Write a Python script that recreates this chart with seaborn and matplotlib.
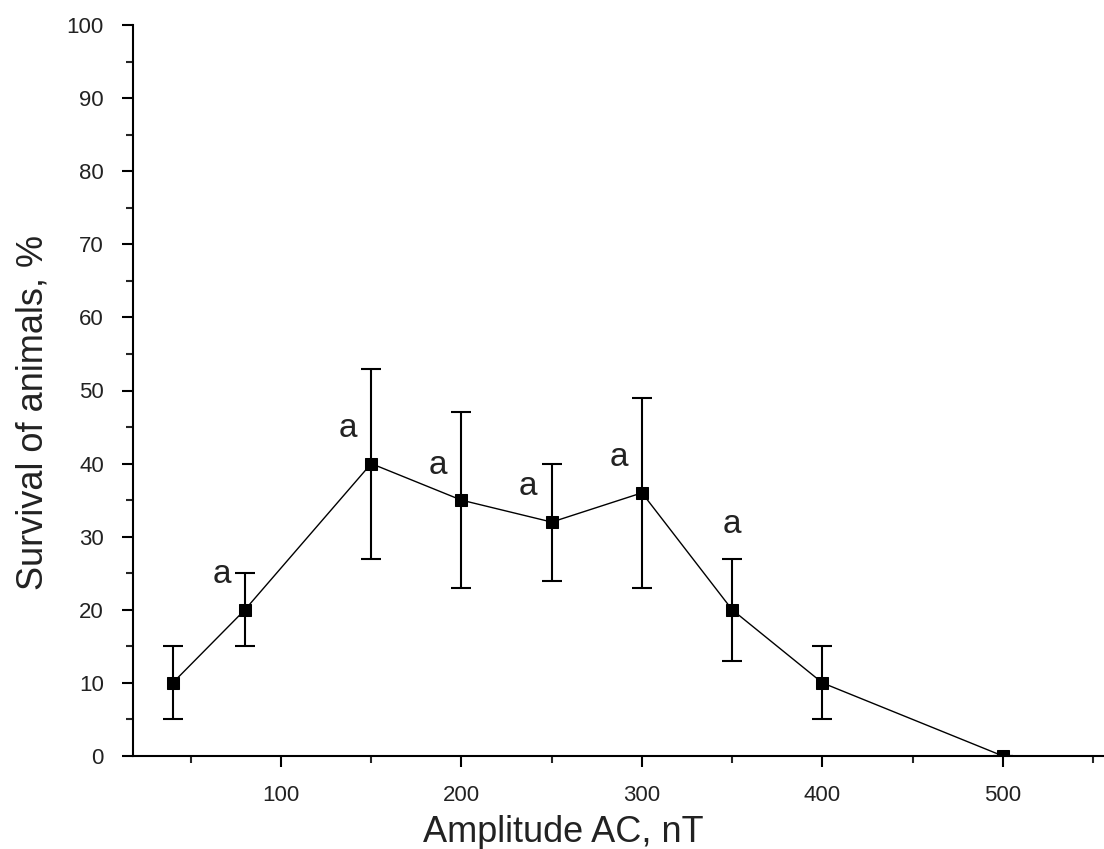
import numpy as np
import pandas as pd
import matplotlib
matplotlib.use("Agg")
import matplotlib.pyplot as plt
from matplotlib.ticker import MultipleLocator
import seaborn as sns

# 数据
amplitude = [40, 80, 150, 200, 250, 300, 350, 400, 500]
survival = [10, 20, 40, 35, 32, 36, 20, 10, 0]
err = [5, 5, 13, 12, 8, 13, 7, 5, 0]
sig_label = ["", "a", "a", "a", "a", "a", "a", "", ""]

df = pd.DataFrame({"amplitude": amplitude, "survival": survival, "err": err, "sig": sig_label})

sns.set_style("ticks")
plt.rcParams['font.family'] = ['Liberation Sans', 'DejaVu Sans']

fig = plt.figure(figsize=(11.04, 8.49), dpi=100)
ax = fig.add_axes([133 / 1104, 1 - 756 / 849, (1104 - 133) / 1104, (756 - 25) / 849])

# 误差线
ax.errorbar(df["amplitude"], df["survival"], yerr=df["err"], fmt="none",
            ecolor="black", elinewidth=1.5, capsize=7, capthick=1.5, zorder=2)
# 折线与方块标记
sns.lineplot(data=df, x="amplitude", y="survival", ax=ax, color="black",
             linewidth=1.0, marker="s", markersize=9, markeredgecolor="black",
             markerfacecolor="black", zorder=3)

# 显著性标记 "a"
for _, r in df.iterrows():
    if r["sig"]:
        if r["amplitude"] == 350:
            ax.text(r["amplitude"], r["survival"] + r["err"] + 4.7, r["sig"],
                    ha="center", va="center", fontsize=24, color="#222222")
        else:
            ax.text(r["amplitude"] - 13, r["survival"] + 4.8, r["sig"],
                    ha="center", va="center", fontsize=24, color="#222222")

ax.set_xlim(18, 556)
ax.set_ylim(0, 100)
ax.xaxis.set_major_locator(MultipleLocator(100))
ax.xaxis.set_minor_locator(MultipleLocator(50))
ax.yaxis.set_major_locator(MultipleLocator(10))
ax.yaxis.set_minor_locator(MultipleLocator(5))
ax.set_xticks([100, 200, 300, 400, 500])

sns.despine(ax=ax)
for s in ["left", "bottom"]:
    ax.spines[s].set_linewidth(1.5)
    ax.spines[s].set_color("black")
ax.tick_params(which="major", length=8, width=1.5, labelsize=16, colors="black", pad=13)
ax.tick_params(which="minor", length=5, width=1.5)
for lab in ax.get_xticklabels() + ax.get_yticklabels():
    lab.set_color("#222222")

ax.set_xlabel("Amplitude AC, nT", fontsize=26, color="#222222")
ax.set_ylabel("Survival of animals, %", fontsize=26, color="#222222")
ax.xaxis.set_label_coords(0.443, -0.081)
ax.yaxis.set_label_coords(-0.085, 0.47)

fig.savefig("out.png", dpi=100)
